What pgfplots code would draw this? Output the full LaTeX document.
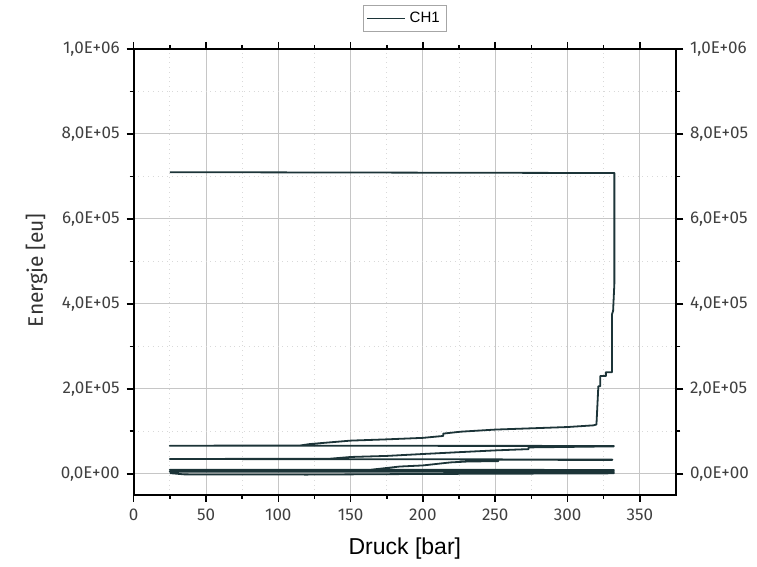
\documentclass[border=0pt]{standalone}
\usepackage{fontspec}
\setmainfont{Liberation Sans}
\newfontfamily\tickfont{Fira Sans}
\usepackage{pgfplots}
\pgfplotsset{compat=1.18}
\definecolor{ch1}{HTML}{1C3438}
\begin{document}
\begin{tikzpicture}
\path[use as bounding box] (-66.85pt,-36pt) rectangle (311.65pt,247.5pt);
\begin{axis}[
  width=271.15pt, height=223pt, scale only axis,
  xmin=0, xmax=375, ymin=-50000, ymax=1000000,
  xtick={0,50,...,350}, minor x tick num=1,
  ytick={0,200000,400000,600000,800000,1000000}, minor y tick num=1,
  yticklabels={{0,0E+00},{2,0E+05},{4,0E+05},{6,0E+05},{8,0E+05},{1,0E+06}},
  scaled y ticks=false,
  yticklabel pos=left,
  grid=both,
  major grid style={gray!45, line width=0.5pt},
  minor grid style={gray!30, dotted, line width=0.5pt},
  axis line style={line width=1pt},
  tick style={black, line width=0.8pt},
  major tick length=3.5pt, minor tick length=2pt,
  tick align=outside,
  /pgf/number format/assume math mode=true,
  ticklabel style={font=\tickfont\fontsize{8.5}{10}\selectfont, text=black!75},
  xlabel={Druck [bar]}, ylabel={Energie [eu]},
  xlabel style={font=\fontsize{11.5}{13}\selectfont, at={(axis description cs:0.5,-0.119)}, anchor=center},
  ylabel style={font=\tickfont\fontsize{10.5}{12}\selectfont, text=black!80, at={(axis description cs:-0.179,0.504)}, anchor=center, rotate=0},
  legend style={at={(0.5,1)}, anchor=south, yshift=8.5pt, draw=gray!70, font=\fontsize{7.5}{9}\selectfont, inner sep=1.2pt},
  legend image code/.code={\draw[#1] (0pt,0pt) -- (19pt,0pt);},
]
\addplot[color=ch1, line width=0.9pt, line join=round] coordinates {
(25,1500) (35,-1500) (120,-2000) (200,-500) (332,1000)
(332,4500) (25,4500)
(25,5500) (150,5500) (332,6500)
(332,9000) (25,9500)
(60,9000) (164,9500) (184,17000) (200,19600) (219,26700) (232,29000) (252,29500) (252,33000) (331,32500)
(331,33500) (25,34700)
(136,35500) (150,39500) (175,42000) (200,46500) (226,51000) (250,55000) (273,58000) (273,62000) (332,64500)
(332,65500) (25,66000)
(115,66500) (122,70000) (150,78000) (175,81000) (200,84500) (214,89000) (214,94500) (226,99000) (250,104000) (275,107000) (300,110000) (318,114000) (320,116000)
(321.3,206000) (322.6,206000) (322.6,230000) (326.5,230000) (326.5,239000) (330.8,239000) (330.8,376000) (331.5,383000) (332.4,449000) (332.4,708000) (25,710000)
};
\addlegendentry{CH1}
\end{axis}
\begin{axis}[
  width=271.15pt, height=223pt, scale only axis,
  xmin=0, xmax=375, ymin=-50000, ymax=1000000,
  axis x line=none, axis y line*=right,
  ytick={0,200000,400000,600000,800000,1000000},
  yticklabels={{0,0E+00},{2,0E+05},{4,0E+05},{6,0E+05},{8,0E+05},{1,0E+06}},
  minor y tick num=1,
  scaled y ticks=false,
  axis line style={line width=1pt},
  tick style={black, line width=0.8pt},
  major tick length=3.5pt, minor tick length=2pt,
  tick align=outside,
  ticklabel style={font=\tickfont\fontsize{8.5}{10}\selectfont, text=black!75},
]
\addplot[draw=none] coordinates {(0,0)};
\end{axis}
\end{tikzpicture}
\end{document}
